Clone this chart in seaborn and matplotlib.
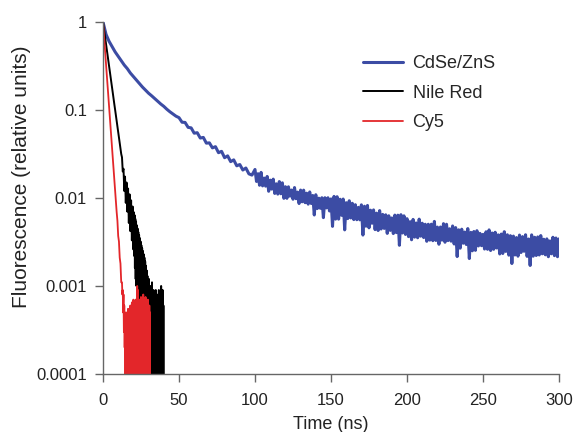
"""Fluorescence decay of CdSe/ZnS quantum dots vs. organic dyes (log scale)."""

import matplotlib

matplotlib.use("Agg")

import matplotlib.pyplot as plt
import pandas as pd
import seaborn as sns

# CdSe/ZnS: every 2 ns up to 98 ns, then every 1 ns up to 300 ns
cdse_time = list(range(0, 100, 2)) + list(range(100, 301))
cdse_values = [
    # 0 - 48 ns
    1.0, 0.724, 0.603, 0.525, 0.457, 0.407, 0.363, 0.324, 0.295, 0.263,
    0.240, 0.219, 0.200, 0.182, 0.168, 0.155, 0.145, 0.135, 0.126, 0.117,
    0.110, 0.102, 0.0955, 0.0902, 0.0851,
    # 50 - 98 ns
    0.0818, 0.0726, 0.0722, 0.0635, 0.0626, 0.0545, 0.0552, 0.0480, 0.0488, 0.0420,
    0.0423, 0.0371, 0.0383, 0.0327, 0.0339, 0.0287, 0.0301, 0.0259, 0.0271, 0.0232,
    0.0240, 0.0208, 0.0219, 0.0188, 0.0182,
    # 100 - 149 ns
    0.02108, 0.01541, 0.01887, 0.01395, 0.01954, 0.01372, 0.01683, 0.01363, 0.01757, 0.01192,
    0.01596, 0.01261, 0.01638, 0.01126, 0.01449, 0.01107, 0.01537, 0.01116, 0.01487, 0.00991,
    0.01343, 0.00991, 0.01340, 0.01049, 0.01231, 0.00968, 0.01314, 0.00981, 0.01166, 0.00865,
    0.01230, 0.00905, 0.01228, 0.00884, 0.01134, 0.00851, 0.01171, 0.00866, 0.01068, 0.00641,
    0.01089, 0.00758, 0.00995, 0.00763, 0.01007, 0.00598, 0.01007, 0.00771, 0.01006, 0.00712,
    # 150 - 199 ns
    0.00976, 0.00476, 0.01043, 0.00575, 0.01034, 0.00575, 0.00968, 0.00635, 0.00973, 0.00434,
    0.00884, 0.00583, 0.00930, 0.00593, 0.00871, 0.00568, 0.00839, 0.00566, 0.00783, 0.00564,
    0.00836, 0.00379, 0.00806, 0.00478, 0.00823, 0.00458, 0.00727, 0.00516, 0.00732, 0.00437,
    0.00673, 0.00427, 0.00719, 0.00444, 0.00651, 0.00451, 0.00644, 0.00396, 0.00628, 0.00428,
    0.00593, 0.00394, 0.00639, 0.00404, 0.00638, 0.00290, 0.00646, 0.00400, 0.00627, 0.00385,
    # 200 - 249 ns
    0.00582, 0.00364, 0.00538, 0.00335, 0.00571, 0.00359, 0.00520, 0.00353, 0.00575, 0.00368,
    0.00517, 0.00355, 0.00503, 0.00322, 0.00503, 0.00332, 0.00504, 0.00327, 0.00542, 0.00329,
    0.00467, 0.00298, 0.00468, 0.00332, 0.00511, 0.00314, 0.00503, 0.00328, 0.00447, 0.00323,
    0.00481, 0.00300, 0.00461, 0.00216, 0.00435, 0.00269, 0.00442, 0.00306, 0.00410, 0.00296,
    0.00449, 0.00205, 0.00407, 0.00251, 0.00416, 0.00254, 0.00425, 0.00285, 0.00396, 0.00287,
    # 250 - 300 ns
    0.00386, 0.00263, 0.00413, 0.00261, 0.00434, 0.00253, 0.00400, 0.00261, 0.00408, 0.00270,
    0.00381, 0.00231, 0.00389, 0.00234, 0.00414, 0.00247, 0.00382, 0.00224, 0.00373, 0.00180,
    0.00369, 0.00225, 0.00355, 0.00218, 0.00379, 0.00240, 0.00364, 0.00248, 0.00382, 0.00217,
    0.00342, 0.00171, 0.00381, 0.00218, 0.00358, 0.00222, 0.00361, 0.00225, 0.00374, 0.00232,
    0.00340, 0.00226, 0.00343, 0.00215, 0.00325, 0.00232, 0.00358, 0.00221, 0.00351, 0.00215,
    0.00343,
]

# Nile Red: every 0.5 ns up to 20 ns, then every 0.25 ns up to 40 ns
nile_time = [i * 0.5 for i in range(41)] + [20.25 + i * 0.25 for i in range(80)]
nile_values = [
    # 0 - 20 ns
    1.0, 0.866, 0.750, 0.649, 0.562, 0.487, 0.422, 0.365, 0.316, 0.274,
    0.237, 0.205, 0.178, 0.154, 0.133, 0.115, 0.100, 0.0866, 0.075, 0.0649,
    0.0562, 0.0487, 0.0422, 0.0365, 0.0316, 0.0290, 0.0200, 0.0215, 0.0120, 0.0175,
    0.0088, 0.0150, 0.0070, 0.0128, 0.0052, 0.0110, 0.0042, 0.0094, 0.0033, 0.0080,
    0.0026,
    # 20.25 - 29 ns
    0.0069, 0.0022, 0.0064, 0.0016, 0.0058, 0.0012, 0.0054, 0.0010, 0.0049, 0.0008,
    0.0045, 0.0007, 0.0041, 0.0005, 0.0038, 0.0004, 0.0035, 0.0003, 0.0032, 0.0002,
    0.0029, 0.00015, 0.0027, 0.0001, 0.0025, 0.00001, 0.0023, 0.00001, 0.0021, 0.00001,
    0.0019, 0.00001, 0.0017, 0.00001, 0.0015, 0.00001,
    # 29.25 - 40 ns
    0.0013, 0.00001, 0.0011, 0.00001, 0.0012, 0.00001, 0.0009, 0.00001, 0.0010, 0.00001,
    0.0008, 0.00001, 0.0011, 0.00001, 0.0007, 0.00001, 0.0009, 0.00001, 0.0006, 0.00001,
    0.0008, 0.00001, 0.0009, 0.00001, 0.0007, 0.00001, 0.0005, 0.00001, 0.0008, 0.00001,
    0.0009, 0.00001, 0.0006, 0.00001, 0.0008, 0.00001, 0.0010, 0.00001, 0.0007, 0.00001,
    0.0009, 0.00001, 0.0006, 0.00001,
]

# Cy5: every 0.5 ns up to 12.5 ns, then every 0.25 ns up to 31 ns
cy5_time = [i * 0.5 for i in range(26)] + [12.75 + i * 0.25 for i in range(74)]
cy5_values = [
    # 0 - 12.5 ns
    1.0, 0.759, 0.575, 0.437, 0.331, 0.251, 0.191, 0.145, 0.110, 0.0832,
    0.0631, 0.0479, 0.0363, 0.0275, 0.0209, 0.0158, 0.0120, 0.0091, 0.0069, 0.0055,
    0.0037, 0.0032, 0.0021, 0.0018, 0.0011, 0.0011,
    # 12.75 - 14.5 ns
    0.0008, 0.0009, 0.0005, 0.0008, 0.0003, 0.0006, 0.0002, 0.0005,
    # 14.75 - 31 ns
    0.00001, 0.00045, 0.00001, 0.0005, 0.00001, 0.0004, 0.00001, 0.00055, 0.00001, 0.0005,
    0.00001, 0.00045, 0.00001, 0.0006, 0.00001, 0.0005, 0.00001, 0.00065, 0.00001, 0.0006,
    0.00001, 0.0007, 0.00001, 0.0006, 0.00001, 0.00055, 0.00001, 0.0007, 0.00001, 0.00065,
    0.00001, 0.0010, 0.00001, 0.0009, 0.00001, 0.0006, 0.00001, 0.0007, 0.00001, 0.00055,
    0.00001, 0.00075, 0.00001, 0.0006, 0.00001, 0.0007, 0.00001, 0.0008, 0.00001, 0.00065,
    0.00001, 0.0006, 0.00001, 0.00075, 0.00001, 0.0007, 0.00001, 0.0006, 0.00001, 0.0007,
    0.00001, 0.00055, 0.00001, 0.0006, 0.00001, 0.0005,
]

series_names = ["CdSe/ZnS", "Nile Red", "Cy5"]
series_colors = ["#3c4ca4", "#000000", "#e3262a"]
series_widths = [2.2, 1.4, 1.3]

x_ticks = [0, 50, 100, 150, 200, 250, 300]
y_ticks = [0.0001, 0.001, 0.01, 0.1, 1]
y_tick_labels = ["0.0001", "0.001", "0.01", "0.1", "1"]

sns.set_theme(style="ticks")
plt.rcParams["font.family"] = ["Liberation Sans", "DejaVu Sans"]

fig = plt.figure(figsize=(5.76, 4.32), dpi=100)
ax = fig.add_axes([0.1788, 0.1343, 0.7917, 0.8148])

curves = [
    (cdse_time, cdse_values),
    (nile_time, nile_values),
    (cy5_time, cy5_values),
]
for (t, v), name, color, lw in zip(curves, series_names, series_colors, series_widths):
    df = pd.DataFrame({"time": t, "fluor": v})
    sns.lineplot(data=df, x="time", y="fluor", ax=ax, color=color, lw=lw,
                 label=name, estimator=None)

ax.set_yscale("log")
ax.set_xlim(0, 300)
ax.set_ylim(0.0001, 1)
ax.set_xticks(x_ticks)
ax.set_yticks(y_ticks)
ax.set_yticklabels(y_tick_labels)
ax.minorticks_off()
ax.tick_params(axis="both", labelsize=12, length=5.5, width=1.0, color="#666666",
               labelcolor="#222222")
ax.tick_params(axis="x", pad=8)
ax.tick_params(axis="y", pad=6)
ax.set_xlabel("Time (ns)", fontsize=13, color="#222222", labelpad=6)
ax.set_ylabel("Fluorescence (relative units)", fontsize=15, color="#222222")
ax.yaxis.set_label_coords(-0.157, 0.56)

for side in ["top", "right"]:
    ax.spines[side].set_visible(False)
for side in ["left", "bottom"]:
    ax.spines[side].set_color("#666666")
    ax.spines[side].set_linewidth(1.0)

ax.legend(loc="upper left", bbox_to_anchor=(0.57, 0.906), frameon=False, fontsize=13,
          handlelength=2.2, handletextpad=0.55, labelspacing=0.7, borderpad=0,
          borderaxespad=0)

fig.savefig("out.png", dpi=100)
